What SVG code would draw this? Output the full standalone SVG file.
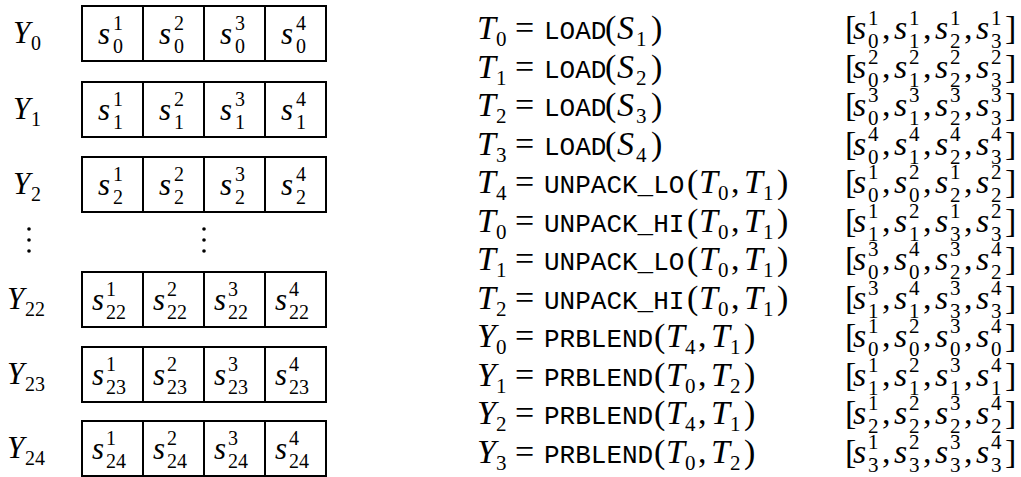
<svg xmlns="http://www.w3.org/2000/svg" width="1021" height="477" viewBox="0 0 1021 477">
<style>
text{font-family:"Liberation Serif",serif;fill:#000}
.m{font-style:italic;font-size:34px}
.u{font-size:34px}
.sc{font-size:21px}
.tt{font-family:"Liberation Mono",monospace;font-size:26px}
.lm{font-style:italic;font-size:31px}
.ls{font-size:20px}
.box{fill:#fff;stroke:#000;stroke-width:2}
.div{stroke:#000;stroke-width:2}
</style>
<defs>
<g id="cells">
<rect class="box" x="82" y="0" width="244" height="55"/>
<line class="div" x1="143" y1="0" x2="143" y2="55"/>
<line class="div" x1="204" y1="0" x2="204" y2="55"/>
<line class="div" x1="265" y1="0" x2="265" y2="55"/>
</g>
</defs>
<g id="row-Y0" transform="translate(0,6)">
<text class="lm" x="13" y="37">Y</text><text class="ls" x="31" y="44">0</text>
<use href="#cells"/>
<text class="lm" x="98" y="38">s</text><text class="ls" x="113" y="24">1</text><text class="ls" x="113" y="47">0</text>
<text class="lm" x="159" y="38">s</text><text class="ls" x="174" y="24">2</text><text class="ls" x="174" y="47">0</text>
<text class="lm" x="220" y="38">s</text><text class="ls" x="235" y="24">3</text><text class="ls" x="235" y="47">0</text>
<text class="lm" x="281" y="38">s</text><text class="ls" x="296" y="24">4</text><text class="ls" x="296" y="47">0</text>
</g>
<g id="row-Y1" transform="translate(0,82)">
<text class="lm" x="13" y="37">Y</text><text class="ls" x="31" y="44">1</text>
<use href="#cells"/>
<text class="lm" x="98" y="38">s</text><text class="ls" x="113" y="24">1</text><text class="ls" x="113" y="47">1</text>
<text class="lm" x="159" y="38">s</text><text class="ls" x="174" y="24">2</text><text class="ls" x="174" y="47">1</text>
<text class="lm" x="220" y="38">s</text><text class="ls" x="235" y="24">3</text><text class="ls" x="235" y="47">1</text>
<text class="lm" x="281" y="38">s</text><text class="ls" x="296" y="24">4</text><text class="ls" x="296" y="47">1</text>
</g>
<g id="row-Y2" transform="translate(0,157)">
<text class="lm" x="13" y="37">Y</text><text class="ls" x="31" y="44">2</text>
<use href="#cells"/>
<text class="lm" x="98" y="38">s</text><text class="ls" x="113" y="24">1</text><text class="ls" x="113" y="47">2</text>
<text class="lm" x="159" y="38">s</text><text class="ls" x="174" y="24">2</text><text class="ls" x="174" y="47">2</text>
<text class="lm" x="220" y="38">s</text><text class="ls" x="235" y="24">3</text><text class="ls" x="235" y="47">2</text>
<text class="lm" x="281" y="38">s</text><text class="ls" x="296" y="24">4</text><text class="ls" x="296" y="47">2</text>
</g>
<g id="ellipsis">
<circle cx="29" cy="229" r="1.8"/><circle cx="29" cy="240" r="1.8"/><circle cx="29" cy="251" r="1.8"/>
<circle cx="204" cy="229" r="1.8"/><circle cx="204" cy="240" r="1.8"/><circle cx="204" cy="251" r="1.8"/>
</g>
<g id="row-Y22" transform="translate(0,272)">
<text class="lm" x="7" y="37">Y</text><text class="ls" x="25" y="44">22</text>
<use href="#cells"/>
<text class="lm" x="92" y="38">s</text><text class="ls" x="106" y="24">1</text><text class="ls" x="106" y="47">22</text>
<text class="lm" x="153" y="38">s</text><text class="ls" x="167" y="24">2</text><text class="ls" x="167" y="47">22</text>
<text class="lm" x="214" y="38">s</text><text class="ls" x="228" y="24">3</text><text class="ls" x="228" y="47">22</text>
<text class="lm" x="275" y="38">s</text><text class="ls" x="289" y="24">4</text><text class="ls" x="289" y="47">22</text>
</g>
<g id="row-Y23" transform="translate(0,347)">
<text class="lm" x="7" y="37">Y</text><text class="ls" x="25" y="44">23</text>
<use href="#cells"/>
<text class="lm" x="92" y="38">s</text><text class="ls" x="106" y="24">1</text><text class="ls" x="106" y="47">23</text>
<text class="lm" x="153" y="38">s</text><text class="ls" x="167" y="24">2</text><text class="ls" x="167" y="47">23</text>
<text class="lm" x="214" y="38">s</text><text class="ls" x="228" y="24">3</text><text class="ls" x="228" y="47">23</text>
<text class="lm" x="275" y="38">s</text><text class="ls" x="289" y="24">4</text><text class="ls" x="289" y="47">23</text>
</g>
<g id="row-Y24" transform="translate(0,421)">
<text class="lm" x="7" y="37">Y</text><text class="ls" x="25" y="44">24</text>
<use href="#cells"/>
<text class="lm" x="92" y="38">s</text><text class="ls" x="106" y="24">1</text><text class="ls" x="106" y="47">24</text>
<text class="lm" x="153" y="38">s</text><text class="ls" x="167" y="24">2</text><text class="ls" x="167" y="47">24</text>
<text class="lm" x="214" y="38">s</text><text class="ls" x="228" y="24">3</text><text class="ls" x="228" y="47">24</text>
<text class="lm" x="275" y="38">s</text><text class="ls" x="289" y="24">4</text><text class="ls" x="289" y="47">24</text>
</g>

<g id="eq0" transform="translate(0,39)">
<text class="m" x="477" y="0">T</text><text class="sc" x="496" y="7">0</text><text class="u" x="515" y="0">=</text>
<text class="tt" x="544" y="0">LOAD</text><text class="u" x="605" y="0">(</text><text class="m" x="617" y="0">S</text><text class="sc" x="636" y="7">1</text><text class="u" x="651" y="0">)</text>
<text class="u" x="845" y="0">[</text>
<text class="m" x="853" y="0">s</text><text class="sc" x="868" y="-14">1</text><text class="sc" x="868" y="9">0</text><text class="u" x="882" y="0">,</text>
<text class="m" x="894" y="0">s</text><text class="sc" x="909" y="-14">1</text><text class="sc" x="909" y="9">1</text><text class="u" x="923" y="0">,</text>
<text class="m" x="935" y="0">s</text><text class="sc" x="950" y="-14">1</text><text class="sc" x="950" y="9">2</text><text class="u" x="964" y="0">,</text>
<text class="m" x="976" y="0">s</text><text class="sc" x="991" y="-14">1</text><text class="sc" x="991" y="9">3</text><text class="u" x="1005" y="0">]</text>
</g>
<g id="eq1" transform="translate(0,77.5)">
<text class="m" x="477" y="0">T</text><text class="sc" x="496" y="7">1</text><text class="u" x="515" y="0">=</text>
<text class="tt" x="544" y="0">LOAD</text><text class="u" x="605" y="0">(</text><text class="m" x="617" y="0">S</text><text class="sc" x="636" y="7">2</text><text class="u" x="651" y="0">)</text>
<text class="u" x="845" y="0">[</text>
<text class="m" x="853" y="0">s</text><text class="sc" x="868" y="-14">2</text><text class="sc" x="868" y="9">0</text><text class="u" x="882" y="0">,</text>
<text class="m" x="894" y="0">s</text><text class="sc" x="909" y="-14">2</text><text class="sc" x="909" y="9">1</text><text class="u" x="923" y="0">,</text>
<text class="m" x="935" y="0">s</text><text class="sc" x="950" y="-14">2</text><text class="sc" x="950" y="9">2</text><text class="u" x="964" y="0">,</text>
<text class="m" x="976" y="0">s</text><text class="sc" x="991" y="-14">2</text><text class="sc" x="991" y="9">3</text><text class="u" x="1005" y="0">]</text>
</g>
<g id="eq2" transform="translate(0,116)">
<text class="m" x="477" y="0">T</text><text class="sc" x="496" y="7">2</text><text class="u" x="515" y="0">=</text>
<text class="tt" x="544" y="0">LOAD</text><text class="u" x="605" y="0">(</text><text class="m" x="617" y="0">S</text><text class="sc" x="636" y="7">3</text><text class="u" x="651" y="0">)</text>
<text class="u" x="845" y="0">[</text>
<text class="m" x="853" y="0">s</text><text class="sc" x="868" y="-14">3</text><text class="sc" x="868" y="9">0</text><text class="u" x="882" y="0">,</text>
<text class="m" x="894" y="0">s</text><text class="sc" x="909" y="-14">3</text><text class="sc" x="909" y="9">1</text><text class="u" x="923" y="0">,</text>
<text class="m" x="935" y="0">s</text><text class="sc" x="950" y="-14">3</text><text class="sc" x="950" y="9">2</text><text class="u" x="964" y="0">,</text>
<text class="m" x="976" y="0">s</text><text class="sc" x="991" y="-14">3</text><text class="sc" x="991" y="9">3</text><text class="u" x="1005" y="0">]</text>
</g>
<g id="eq3" transform="translate(0,154.5)">
<text class="m" x="477" y="0">T</text><text class="sc" x="496" y="7">3</text><text class="u" x="515" y="0">=</text>
<text class="tt" x="544" y="0">LOAD</text><text class="u" x="605" y="0">(</text><text class="m" x="617" y="0">S</text><text class="sc" x="636" y="7">4</text><text class="u" x="651" y="0">)</text>
<text class="u" x="845" y="0">[</text>
<text class="m" x="853" y="0">s</text><text class="sc" x="868" y="-14">4</text><text class="sc" x="868" y="9">0</text><text class="u" x="882" y="0">,</text>
<text class="m" x="894" y="0">s</text><text class="sc" x="909" y="-14">4</text><text class="sc" x="909" y="9">1</text><text class="u" x="923" y="0">,</text>
<text class="m" x="935" y="0">s</text><text class="sc" x="950" y="-14">4</text><text class="sc" x="950" y="9">2</text><text class="u" x="964" y="0">,</text>
<text class="m" x="976" y="0">s</text><text class="sc" x="991" y="-14">4</text><text class="sc" x="991" y="9">3</text><text class="u" x="1005" y="0">]</text>
</g>
<g id="eq4" transform="translate(0,193)">
<text class="m" x="477" y="0">T</text><text class="sc" x="496" y="7">4</text><text class="u" x="515" y="0">=</text>
<text class="tt" x="544" y="0">UNPACK_LO</text><text class="u" x="687" y="0">(</text><text class="m" x="699" y="0">T</text><text class="sc" x="718" y="7">0</text><text class="u" x="731" y="0">,</text><text class="m" x="744" y="0">T</text><text class="sc" x="763" y="7">1</text><text class="u" x="777" y="0">)</text>
<text class="u" x="845" y="0">[</text>
<text class="m" x="853" y="0">s</text><text class="sc" x="868" y="-14">1</text><text class="sc" x="868" y="9">0</text><text class="u" x="882" y="0">,</text>
<text class="m" x="894" y="0">s</text><text class="sc" x="909" y="-14">2</text><text class="sc" x="909" y="9">0</text><text class="u" x="923" y="0">,</text>
<text class="m" x="935" y="0">s</text><text class="sc" x="950" y="-14">1</text><text class="sc" x="950" y="9">2</text><text class="u" x="964" y="0">,</text>
<text class="m" x="976" y="0">s</text><text class="sc" x="991" y="-14">2</text><text class="sc" x="991" y="9">2</text><text class="u" x="1005" y="0">]</text>
</g>
<g id="eq5" transform="translate(0,231.5)">
<text class="m" x="477" y="0">T</text><text class="sc" x="496" y="7">0</text><text class="u" x="515" y="0">=</text>
<text class="tt" x="544" y="0">UNPACK_HI</text><text class="u" x="687" y="0">(</text><text class="m" x="699" y="0">T</text><text class="sc" x="718" y="7">0</text><text class="u" x="731" y="0">,</text><text class="m" x="744" y="0">T</text><text class="sc" x="763" y="7">1</text><text class="u" x="777" y="0">)</text>
<text class="u" x="845" y="0">[</text>
<text class="m" x="853" y="0">s</text><text class="sc" x="868" y="-14">1</text><text class="sc" x="868" y="9">1</text><text class="u" x="882" y="0">,</text>
<text class="m" x="894" y="0">s</text><text class="sc" x="909" y="-14">2</text><text class="sc" x="909" y="9">1</text><text class="u" x="923" y="0">,</text>
<text class="m" x="935" y="0">s</text><text class="sc" x="950" y="-14">1</text><text class="sc" x="950" y="9">3</text><text class="u" x="964" y="0">,</text>
<text class="m" x="976" y="0">s</text><text class="sc" x="991" y="-14">2</text><text class="sc" x="991" y="9">3</text><text class="u" x="1005" y="0">]</text>
</g>
<g id="eq6" transform="translate(0,270)">
<text class="m" x="477" y="0">T</text><text class="sc" x="496" y="7">1</text><text class="u" x="515" y="0">=</text>
<text class="tt" x="544" y="0">UNPACK_LO</text><text class="u" x="687" y="0">(</text><text class="m" x="699" y="0">T</text><text class="sc" x="718" y="7">0</text><text class="u" x="731" y="0">,</text><text class="m" x="744" y="0">T</text><text class="sc" x="763" y="7">1</text><text class="u" x="777" y="0">)</text>
<text class="u" x="845" y="0">[</text>
<text class="m" x="853" y="0">s</text><text class="sc" x="868" y="-14">3</text><text class="sc" x="868" y="9">0</text><text class="u" x="882" y="0">,</text>
<text class="m" x="894" y="0">s</text><text class="sc" x="909" y="-14">4</text><text class="sc" x="909" y="9">0</text><text class="u" x="923" y="0">,</text>
<text class="m" x="935" y="0">s</text><text class="sc" x="950" y="-14">3</text><text class="sc" x="950" y="9">2</text><text class="u" x="964" y="0">,</text>
<text class="m" x="976" y="0">s</text><text class="sc" x="991" y="-14">4</text><text class="sc" x="991" y="9">2</text><text class="u" x="1005" y="0">]</text>
</g>
<g id="eq7" transform="translate(0,308.5)">
<text class="m" x="477" y="0">T</text><text class="sc" x="496" y="7">2</text><text class="u" x="515" y="0">=</text>
<text class="tt" x="544" y="0">UNPACK_HI</text><text class="u" x="687" y="0">(</text><text class="m" x="699" y="0">T</text><text class="sc" x="718" y="7">0</text><text class="u" x="731" y="0">,</text><text class="m" x="744" y="0">T</text><text class="sc" x="763" y="7">1</text><text class="u" x="777" y="0">)</text>
<text class="u" x="845" y="0">[</text>
<text class="m" x="853" y="0">s</text><text class="sc" x="868" y="-14">3</text><text class="sc" x="868" y="9">1</text><text class="u" x="882" y="0">,</text>
<text class="m" x="894" y="0">s</text><text class="sc" x="909" y="-14">4</text><text class="sc" x="909" y="9">1</text><text class="u" x="923" y="0">,</text>
<text class="m" x="935" y="0">s</text><text class="sc" x="950" y="-14">3</text><text class="sc" x="950" y="9">3</text><text class="u" x="964" y="0">,</text>
<text class="m" x="976" y="0">s</text><text class="sc" x="991" y="-14">4</text><text class="sc" x="991" y="9">3</text><text class="u" x="1005" y="0">]</text>
</g>
<g id="eq8" transform="translate(0,347)">
<text class="m" x="477" y="0">Y</text><text class="sc" x="496" y="7">0</text><text class="u" x="515" y="0">=</text>
<text class="tt" x="544" y="0">PRBLEND</text><text class="u" x="654" y="0">(</text><text class="m" x="666" y="0">T</text><text class="sc" x="685" y="7">4</text><text class="u" x="698" y="0">,</text><text class="m" x="711" y="0">T</text><text class="sc" x="730" y="7">1</text><text class="u" x="744" y="0">)</text>
<text class="u" x="845" y="0">[</text>
<text class="m" x="853" y="0">s</text><text class="sc" x="868" y="-14">1</text><text class="sc" x="868" y="9">0</text><text class="u" x="882" y="0">,</text>
<text class="m" x="894" y="0">s</text><text class="sc" x="909" y="-14">2</text><text class="sc" x="909" y="9">0</text><text class="u" x="923" y="0">,</text>
<text class="m" x="935" y="0">s</text><text class="sc" x="950" y="-14">3</text><text class="sc" x="950" y="9">0</text><text class="u" x="964" y="0">,</text>
<text class="m" x="976" y="0">s</text><text class="sc" x="991" y="-14">4</text><text class="sc" x="991" y="9">0</text><text class="u" x="1005" y="0">]</text>
</g>
<g id="eq9" transform="translate(0,385.5)">
<text class="m" x="477" y="0">Y</text><text class="sc" x="496" y="7">1</text><text class="u" x="515" y="0">=</text>
<text class="tt" x="544" y="0">PRBLEND</text><text class="u" x="654" y="0">(</text><text class="m" x="666" y="0">T</text><text class="sc" x="685" y="7">0</text><text class="u" x="698" y="0">,</text><text class="m" x="711" y="0">T</text><text class="sc" x="730" y="7">2</text><text class="u" x="744" y="0">)</text>
<text class="u" x="845" y="0">[</text>
<text class="m" x="853" y="0">s</text><text class="sc" x="868" y="-14">1</text><text class="sc" x="868" y="9">1</text><text class="u" x="882" y="0">,</text>
<text class="m" x="894" y="0">s</text><text class="sc" x="909" y="-14">2</text><text class="sc" x="909" y="9">1</text><text class="u" x="923" y="0">,</text>
<text class="m" x="935" y="0">s</text><text class="sc" x="950" y="-14">3</text><text class="sc" x="950" y="9">1</text><text class="u" x="964" y="0">,</text>
<text class="m" x="976" y="0">s</text><text class="sc" x="991" y="-14">4</text><text class="sc" x="991" y="9">1</text><text class="u" x="1005" y="0">]</text>
</g>
<g id="eq10" transform="translate(0,424)">
<text class="m" x="477" y="0">Y</text><text class="sc" x="496" y="7">2</text><text class="u" x="515" y="0">=</text>
<text class="tt" x="544" y="0">PRBLEND</text><text class="u" x="654" y="0">(</text><text class="m" x="666" y="0">T</text><text class="sc" x="685" y="7">4</text><text class="u" x="698" y="0">,</text><text class="m" x="711" y="0">T</text><text class="sc" x="730" y="7">1</text><text class="u" x="744" y="0">)</text>
<text class="u" x="845" y="0">[</text>
<text class="m" x="853" y="0">s</text><text class="sc" x="868" y="-14">1</text><text class="sc" x="868" y="9">2</text><text class="u" x="882" y="0">,</text>
<text class="m" x="894" y="0">s</text><text class="sc" x="909" y="-14">2</text><text class="sc" x="909" y="9">2</text><text class="u" x="923" y="0">,</text>
<text class="m" x="935" y="0">s</text><text class="sc" x="950" y="-14">3</text><text class="sc" x="950" y="9">2</text><text class="u" x="964" y="0">,</text>
<text class="m" x="976" y="0">s</text><text class="sc" x="991" y="-14">4</text><text class="sc" x="991" y="9">2</text><text class="u" x="1005" y="0">]</text>
</g>
<g id="eq11" transform="translate(0,462.5)">
<text class="m" x="477" y="0">Y</text><text class="sc" x="496" y="7">3</text><text class="u" x="515" y="0">=</text>
<text class="tt" x="544" y="0">PRBLEND</text><text class="u" x="654" y="0">(</text><text class="m" x="666" y="0">T</text><text class="sc" x="685" y="7">0</text><text class="u" x="698" y="0">,</text><text class="m" x="711" y="0">T</text><text class="sc" x="730" y="7">2</text><text class="u" x="744" y="0">)</text>
<text class="u" x="845" y="0">[</text>
<text class="m" x="853" y="0">s</text><text class="sc" x="868" y="-14">1</text><text class="sc" x="868" y="9">3</text><text class="u" x="882" y="0">,</text>
<text class="m" x="894" y="0">s</text><text class="sc" x="909" y="-14">2</text><text class="sc" x="909" y="9">3</text><text class="u" x="923" y="0">,</text>
<text class="m" x="935" y="0">s</text><text class="sc" x="950" y="-14">3</text><text class="sc" x="950" y="9">3</text><text class="u" x="964" y="0">,</text>
<text class="m" x="976" y="0">s</text><text class="sc" x="991" y="-14">4</text><text class="sc" x="991" y="9">3</text><text class="u" x="1005" y="0">]</text>
</g>
</svg>
